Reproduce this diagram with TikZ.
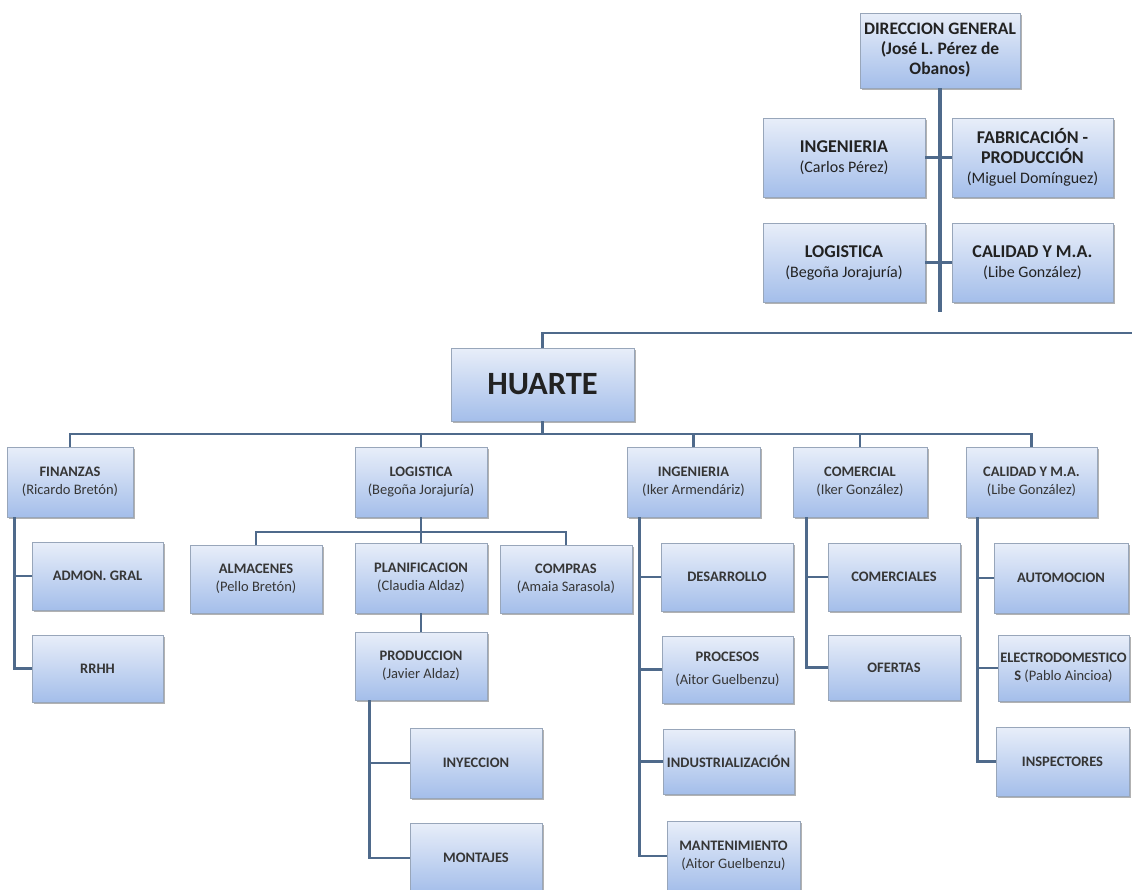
\documentclass[tikz,border=0pt]{standalone}
\usepackage{fontspec}
\setmainfont{Carlito}
\usetikzlibrary{shadows}
\definecolor{boxtop}{HTML}{E8EEF9}
\definecolor{boxbot}{HTML}{A4BEEA}
\definecolor{boxline}{HTML}{98A6BA}
\definecolor{lineclr}{HTML}{4F6A8B}
\definecolor{txt}{HTML}{222222}
\definecolor{txtb}{HTML}{363636}
\begin{document}
\begin{tikzpicture}[x=1pt,y=-1pt,
  orgbox/.style={draw=boxline, line width=0.6pt, top color=boxtop, bottom color=boxbot,
    drop shadow={shadow xshift=1.8pt, shadow yshift=-1.8pt, fill=black, opacity=0.3},
    align=center, inner sep=0.5pt, text=txtb, font=\fontsize{14.5}{18}\selectfont},
  topbox/.style={orgbox, text=txt, font=\fontsize{16}{20}\selectfont},
  leaf/.style={orgbox, font=\bfseries\fontsize{14.5}{18}\selectfont},
  sz/.style 2 args={minimum width=#1pt, minimum height=#2pt},
  conn/.style={draw=lineclr, line width=2.6pt},
  spine/.style={draw=lineclr, line width=3.2pt},
]
\useasboundingbox (0,0) rectangle (1132,889);

% ---------- top section ----------
\node[topbox, sz={160}{75}, font=\bfseries\fontsize{17.5}{20}\selectfont] (dg) at (940,50.5)
  {DIRECCION GENERAL\\(José L. Pérez de\\Obanos)};
\node[topbox, sz={162}{79}] (ing0) at (844,157.5)
  {{\bfseries\fontsize{18}{20}\selectfont INGENIERIA}\\(Carlos Pérez)};
\node[topbox, sz={161}{79}] (fab0) at (1032.5,157.5)
  {{\bfseries\fontsize{18}{20}\selectfont FABRICACIÓN -}\\{\bfseries\fontsize{18}{20}\selectfont PRODUCCIÓN}\\(Miguel Domínguez)};
\node[topbox, sz={162}{79}] (log0) at (844,262.5)
  {{\bfseries\fontsize{18}{20}\selectfont LOGISTICA}\\(Begoña Jorajuría)};
\node[topbox, sz={161}{79}] (cal0) at (1032.5,262.5)
  {{\bfseries\fontsize{18}{20}\selectfont CALIDAD Y M.A.}\\(Libe González)};

\coordinate (dgEnd) at (940,312);
\draw[spine] (dg.south) -- (dgEnd);
\draw[conn] (ing0.east) -- (fab0.west);
\draw[conn] (log0.east) -- (cal0.west);

% ---------- HUARTE ----------
\node[orgbox, sz={183}{73}, text=txt, font=\bfseries\fontsize{32.5}{36}\selectfont] (hu) at (542.5,384.5) {HUARTE};
\coordinate (topR) at (1132,333);
\draw[conn] (hu.north) |- (topR);

% ---------- level 2 ----------
\node[orgbox, sz={126}{70}] (fin) at (70,482) {{\bfseries FINANZAS}\\(Ricardo Bretón)};
\node[orgbox, sz={132}{70}] (log) at (421,482) {{\bfseries LOGISTICA}\\(Begoña Jorajuría)};
\node[orgbox, sz={133}{70}] (ing) at (693.5,482) {{\bfseries INGENIERIA}\\(Iker Armendáriz)};
\node[orgbox, sz={134}{70}] (com) at (860,482) {{\bfseries COMERCIAL}\\(Iker González)};
\node[orgbox, sz={131}{70}] (cal) at (1031.5,482) {{\bfseries CALIDAD Y M.A.}\\(Libe González)};

\coordinate (bus) at (0,434);
\draw[conn] (hu.south) -- (hu.south |- bus);
\draw[conn] (fin.north) -- (fin.north |- bus) -- (cal.north |- bus) -- (cal.north);
\draw[conn] (log.north) -- (log.north |- bus);
\draw[conn] (ing.north) -- (ing.north |- bus);
\draw[conn] (com.north) -- (com.north |- bus);

% ---------- FINANZAS ----------
\node[leaf, sz={131}{68}] (admon) at (97.5,576) {ADMON. GRAL};
\node[leaf, sz={131}{67}] (rrhh) at (97.5,668.5) {RRHH};
\coordinate (finS) at ([xshift=8pt]fin.south west);
\draw[conn] (finS) |- (rrhh.west);
\draw[conn] (admon.west) -- (finS |- admon.west);

% ---------- LOGISTICA ----------
\node[orgbox, sz={132}{68}] (alm) at (256,579) {{\bfseries ALMACENES}\\(Pello Bretón)};
\node[orgbox, sz={132}{70}] (plan) at (421,578) {{\bfseries PLANIFICACION}\\(Claudia Aldaz)};
\node[orgbox, sz={132}{68}] (comp) at (566,579) {{\bfseries COMPRAS}\\(Amaia Sarasola)};
\coordinate (sb) at (0,532);
\draw[conn] (log.south) -- (plan.north);
\draw[conn] (alm.north) -- (alm.north |- sb) -- (comp.north |- sb) -- (comp.north);

\node[orgbox, sz={132}{68}] (prod) at (421,666) {{\bfseries PRODUCCION}\\(Javier Aldaz)};
\draw[conn] (plan.south) -- (prod.north);
\node[leaf, sz={132}{70}] (iny) at (476,763) {INYECCION};
\node[leaf, sz={132}{70}] (mont) at (476,858) {MONTAJES};
\coordinate (prodS) at ([xshift=15pt]prod.south west);
\draw[conn] (prodS) |- (mont.west);
\draw[conn] (iny.west) -- (prodS |- iny.west);

% ---------- INGENIERIA ----------
\node[leaf, sz={132}{68}] (des) at (727,577) {DESARROLLO};
\node[orgbox, sz={131}{67}] (proc) at (727.5,669.5) {{\bfseries PROCESOS}\\[5pt](Aitor Guelbenzu)};
\node[leaf, sz={131}{65}] (ind) at (728.5,761.5) {INDUSTRIALIZACIÓN};
\node[orgbox, sz={133}{70}] (mant) at (733.5,856) {{\bfseries MANTENIMIENTO}\\(Aitor Guelbenzu)};
\coordinate (ingS) at ([xshift=13pt]ing.south west);
\draw[conn] (ingS) |- (mant.west);
\draw[conn] (des.west) -- (ingS |- des.west);
\draw[conn] (proc.west) -- (ingS |- proc.west);
\draw[conn] (ind.west) -- (ingS |- ind.west);

% ---------- COMERCIAL ----------
\node[leaf, sz={132}{68}] (comls) at (894,577) {COMERCIALES};
\node[leaf, sz={132}{65}] (ofer) at (894,667.5) {OFERTAS};
\coordinate (comS) at ([xshift=14pt]com.south west);
\draw[conn] (comS) |- (ofer.west);
\draw[conn] (comls.west) -- (comS |- comls.west);

% ---------- CALIDAD ----------
\node[leaf, sz={134}{70}] (auto) at (1061,578) {AUTOMOCION};
\node[orgbox, sz={131}{66}] (elec) at (1063.5,668) {{\bfseries ELECTRODOMESTICO}\\{\bfseries S} (Pablo Aincioa)};
\node[leaf, sz={133}{69}] (insp) at (1062.5,761.5) {INSPECTORES};
\coordinate (calS) at ([xshift=12pt]cal.south west);
\draw[conn] (calS) |- (insp.west);
\draw[conn] (auto.west) -- (calS |- auto.west);
\draw[conn] (elec.west) -- (calS |- elec.west);
\end{tikzpicture}
\end{document}
